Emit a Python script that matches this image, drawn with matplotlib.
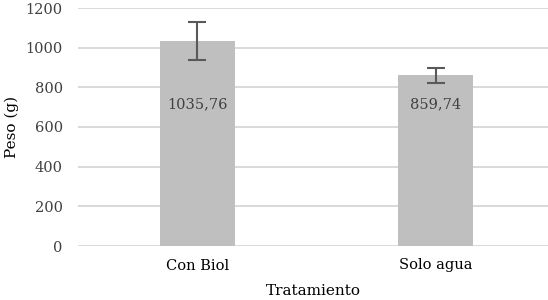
import matplotlib
matplotlib.use('Agg')
import matplotlib.pyplot as plt

# Datos del gráfico
tratamientos = ['Con Biol', 'Solo agua']
peso = [1035.76, 859.74]
error = [96, 38]
etiquetas = ['1035,76', '859,74']

plt.rcParams['font.family'] = ['DejaVu Serif']

fig = plt.figure(figsize=(5.48, 3.0), dpi=100)
ax = fig.add_axes([78 / 548, 54 / 300, 470 / 548, 238 / 300])

x = range(len(tratamientos))
ax.bar(x, peso, width=0.315, color='#bfbfbf', zorder=2)
ax.errorbar(x, peso, yerr=error, fmt='none', ecolor='#595959',
            elinewidth=1.5, capsize=6.5, capthick=1.5, zorder=3)

# Etiquetas de datos dentro de las barras
for xi, txt in zip(x, etiquetas):
    ax.text(xi, 714, txt, ha='center', va='center', fontsize=10.5, color='#404040', zorder=4)

ax.set_xlim(-0.5, 1.47)
ax.set_ylim(0, 1200)
ax.set_yticks(range(0, 1201, 200))
ax.set_xticks(list(x))
ax.set_xticklabels(tratamientos)
ax.grid(axis='y', color='#d9d9d9', linewidth=1.4, zorder=0)
ax.set_axisbelow(True)
for s in ax.spines.values():
    s.set_visible(False)
ax.tick_params(length=0, labelsize=10.5, colors='#404040')
ax.tick_params(axis='y', pad=11)
ax.tick_params(axis='x', labelcolor='black', pad=9)
ax.set_xlabel('Tratamiento', fontsize=11, labelpad=8)
ax.set_ylabel('Peso (g)', fontsize=11, labelpad=5)

fig.savefig('out.png', dpi=100)
